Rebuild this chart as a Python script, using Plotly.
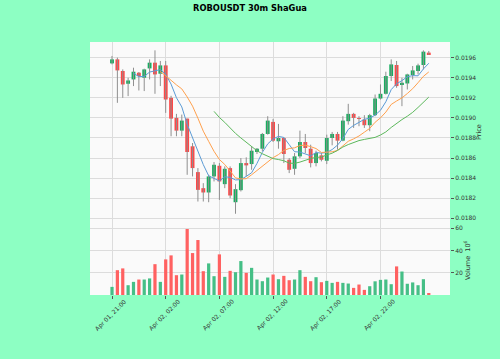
import plotly.graph_objects as go
import pandas as pd

# ---------------- data ----------------
times = pd.date_range("2024-04-01 21:00", periods=60, freq="30min")

opens = [0.019543, 0.019583, 0.019467, 0.019340, 0.019383, 0.019450, 0.019400, 0.019493, 0.019550, 0.019440,
         0.019523, 0.019200, 0.019000, 0.018873, 0.018993, 0.018717, 0.018460, 0.018300, 0.018257, 0.018417,
         0.018523, 0.018340, 0.018500, 0.018160, 0.018280, 0.018550, 0.018540, 0.018660, 0.018693, 0.018840,
         0.018960, 0.018767, 0.018800, 0.018583, 0.018493, 0.018617, 0.018760, 0.018693, 0.018550, 0.018627,
         0.018573, 0.018800, 0.018840, 0.018773, 0.018967, 0.019040, 0.018997, 0.018983, 0.018927, 0.019027,
         0.019193, 0.019240, 0.019417, 0.019527, 0.019333, 0.019343, 0.019427, 0.019467, 0.019527, 0.019650]
highs = [0.019617, 0.019600, 0.019483, 0.019400, 0.019500, 0.019457, 0.019490, 0.019583, 0.019673, 0.019567,
         0.019567, 0.019220, 0.019040, 0.019033, 0.018993, 0.018750, 0.018500, 0.018350, 0.018433, 0.018560,
         0.018550, 0.018517, 0.018517, 0.018340, 0.018600, 0.018607, 0.018717, 0.018700, 0.018850, 0.019017,
         0.018990, 0.018940, 0.018807, 0.018600, 0.018650, 0.018873, 0.018840, 0.018733, 0.018673, 0.018650,
         0.018833, 0.018860, 0.018860, 0.019017, 0.019140, 0.019050, 0.019017, 0.019027, 0.019040, 0.019233,
         0.019333, 0.019460, 0.019583, 0.019567, 0.019400, 0.019440, 0.019517, 0.019540, 0.019673, 0.019667]
lows = [0.019533, 0.019150, 0.019200, 0.019217, 0.019317, 0.019273, 0.019267, 0.019383, 0.019240, 0.019317,
        0.019050, 0.018817, 0.018817, 0.018817, 0.018433, 0.018417, 0.018167, 0.018167, 0.018160, 0.018367,
        0.018183, 0.018300, 0.018200, 0.018045, 0.018267, 0.018417, 0.018483, 0.018640, 0.018667, 0.018833,
        0.018760, 0.018693, 0.018550, 0.018450, 0.018433, 0.018600, 0.018650, 0.018507, 0.018517, 0.018567,
        0.018540, 0.018727, 0.018683, 0.018767, 0.018933, 0.018900, 0.018917, 0.018900, 0.018867, 0.019017,
        0.019183, 0.019233, 0.019367, 0.019300, 0.019117, 0.019283, 0.019383, 0.019433, 0.019483, 0.019627]
closes = [0.019583, 0.019473, 0.019333, 0.019373, 0.019460, 0.019417, 0.019483, 0.019550, 0.019433, 0.019523,
          0.019183, 0.018993, 0.018873, 0.018973, 0.018660, 0.018500, 0.018283, 0.018257, 0.018417, 0.018533,
          0.018367, 0.018493, 0.018227, 0.018290, 0.018550, 0.018527, 0.018673, 0.018693, 0.018840, 0.018973,
          0.018773, 0.018800, 0.018640, 0.018483, 0.018617, 0.018760, 0.018700, 0.018550, 0.018650, 0.018583,
          0.018800, 0.018840, 0.018773, 0.018973, 0.019040, 0.019000, 0.018990, 0.018927, 0.019027, 0.019193,
          0.019240, 0.019417, 0.019533, 0.019317, 0.019350, 0.019433, 0.019473, 0.019523, 0.019660, 0.019633]
volumes = [7.3, 22.3, 23.9, 8.8, 11.8, 13.9, 13.9, 14.9, 27.7, 11.8,
           32.0, 35.6, 17.8, 18.4, 59.3, 37.7, 49.4, 21.4, 28.4, 16.9,
           36.5, 16.3, 21.7, 20.5, 30.5, 19.9, 24.4, 13.9, 12.4, 15.7,
           18.4, 14.2, 17.2, 13.3, 13.9, 22.3, 16.3, 12.4, 16.0, 11.5,
           12.7, 10.9, 11.8, 10.9, 10.3, 6.4, 9.4, 4.6, 7.9, 12.3,
           13.6, 13.9, 9.7, 25.7, 21.1, 10.1, 11.3, 8.8, 14.2, 1.3]

mav_windows = [5, 10, 20]
price_ticks = [0.0180, 0.0182, 0.0184, 0.0186, 0.0188, 0.0190, 0.0192, 0.0194, 0.0196]
volume_ticks = [20, 40, 60]
tick_idx = [0, 10, 20, 30, 40, 50]
tick_labels = [times[i].strftime("%b %d, %H:%M") for i in tick_idx]

# ---------------- styling ----------------
BG = "#8dffc3"
PLOT_BG = "#fafafa"
GRID = "#dcdcdc"
UP = "#17ad5f"
DOWN = "#ff4747"
VOL_UP = "#45bf86"
VOL_DOWN = "#ff6161"
WICK = "#8f8f8f"
MA_COLORS = ["#5b9bd5", "#ffa04d", "#5cb85c"]
FONT = "DejaVu Sans"
TXT = "#333333"

n = len(closes)
idx = list(range(n))
up = [c >= o for o, c in zip(opens, closes)]

wx, wy = [], []
for i in idx:
    wx += [i, i, None]
    wy += [lows[i], highs[i], None]

fig = go.Figure()

fig.add_trace(go.Scatter(x=wx, y=wy, mode="lines", line=dict(color=WICK, width=1),
                         xaxis="x", yaxis="y", hoverinfo="skip"))
fig.add_trace(go.Bar(x=idx, y=[abs(c - o) for o, c in zip(opens, closes)],
                     base=[min(o, c) for o, c in zip(opens, closes)],
                     marker=dict(color=[UP if u else DOWN for u in up], line=dict(width=0)),
                     width=0.72, xaxis="x", yaxis="y"))

cs = pd.Series(closes)
for w, col in zip(mav_windows, MA_COLORS):
    ma = cs.rolling(w).mean()
    fig.add_trace(go.Scatter(x=idx, y=ma, mode="lines", line=dict(color=col, width=1),
                             xaxis="x", yaxis="y"))

fig.add_trace(go.Bar(x=idx, y=volumes,
                     marker=dict(color=[VOL_UP if u else VOL_DOWN for u in up], line=dict(width=0)),
                     width=0.6, xaxis="x2", yaxis="y2"))

split = (295 - 223) / 253.0
xr = [-4.1, 62.95]

fig.update_layout(
    width=500, height=359,
    paper_bgcolor=BG, plot_bgcolor=PLOT_BG,
    margin=dict(l=90, r=50, t=42, b=64),
    showlegend=False, barmode="overlay",
    font=dict(family=FONT, size=6, color=TXT),
    title=dict(text="<b>ROBOUSDT 30m ShaGua</b>", x=0.5, xanchor="center",
               y=1 - 8 / 359, yanchor="middle", yref="container",
               font=dict(family=FONT, size=8.3, color="#000000")),
    xaxis=dict(domain=[0, 1], anchor="y", range=xr, tickvals=tick_idx, showticklabels=False,
               showgrid=True, gridcolor=GRID, gridwidth=1, zeroline=False, ticks=""),
    xaxis2=dict(domain=[0, 1], anchor="y2", range=xr, tickvals=tick_idx, showticklabels=False,
                showgrid=True, gridcolor=GRID, gridwidth=1, zeroline=False,
                ticks="outside", ticklen=3, tickcolor="#555555"),
    yaxis=dict(domain=[split, 1], anchor="x", side="right", range=[0.017953, 0.019756],
               tickvals=price_ticks, ticktext=["%.4f" % v for v in price_ticks],
               ticks="outside", ticklen=3, tickcolor="#555555",
               showgrid=True, gridcolor=GRID, gridwidth=1, zeroline=False,
               tickfont=dict(size=6, color=TXT)),
    yaxis2=dict(domain=[0, split], anchor="x2", side="right", range=[0, 64.7],
                tickvals=volume_ticks, ticks="outside", ticklen=3, tickcolor="#555555",
                showgrid=True, gridcolor=GRID, gridwidth=1, zeroline=False,
                tickfont=dict(size=6, color=TXT)),
)

ann = []
for i, lab in zip(tick_idx, tick_labels):
    ann.append(dict(text=lab, x=i - 0.2, xref="x2", y=(295 - 315) / 253.0, yref="paper",
                    xanchor="center", yanchor="middle", textangle=-45, showarrow=False,
                    font=dict(size=6, color=TXT, family=FONT)))
ann.append(dict(text="Price", x=(479 - 90) / 360.0, xref="paper", y=(295 - 132) / 253.0, yref="paper",
                xanchor="center", yanchor="middle", textangle=-90, showarrow=False,
                font=dict(size=6.5, color=TXT, family=FONT)))
ann.append(dict(text="Volume  10<sup>6</sup>", x=(467 - 90) / 360.0, xref="paper",
                y=(295 - 260) / 253.0, yref="paper",
                xanchor="center", yanchor="middle", textangle=-90, showarrow=False,
                font=dict(size=6.5, color=TXT, family=FONT)))
fig.update_layout(annotations=ann)

fig.write_html("out.html")
